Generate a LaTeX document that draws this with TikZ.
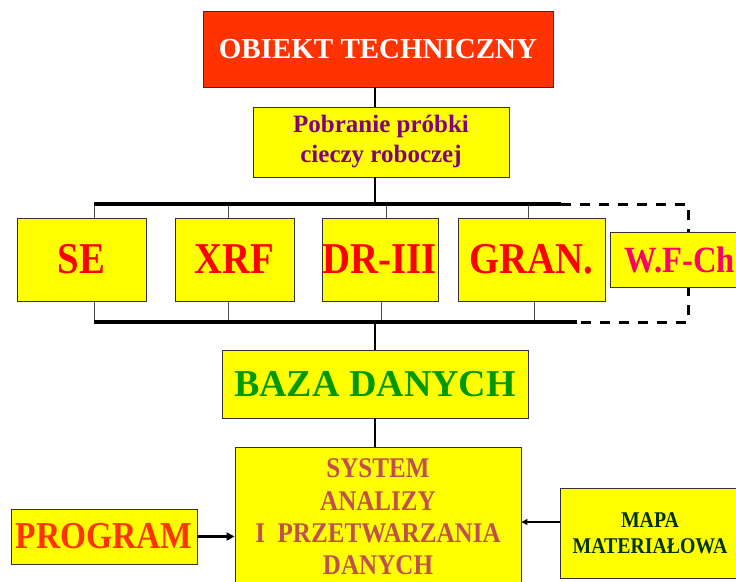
\documentclass[tikz,border=0pt]{standalone}
\usepackage{fontspec}
\setmainfont{Liberation Serif}
\newfontfamily\condfont{Liberation Serif}[FakeStretch=0.88]
\usepackage{xcolor}
\usepackage{tikz}
\usetikzlibrary{arrows.meta}

\definecolor{obiektred}{HTML}{FF3300}
\definecolor{boxyellow}{HTML}{FFFF00}
\definecolor{probkapurple}{HTML}{800080}
\definecolor{bazagreen}{HTML}{009900}
\definecolor{systemrose}{HTML}{C0504D}
\definecolor{wfpink}{HTML}{FF0066}
\definecolor{mapagreen}{HTML}{003300}

\begin{document}
\begin{tikzpicture}[x=1pt, y=-1pt,
    box/.style    = {draw=black!80, line width=0.9pt, fill=boxyellow, inner sep=0pt, align=center},
    method/.style = {box, minimum width=#1, minimum height=83, text=red,
                     font=\condfont\bfseries\fontsize{44}{50}\selectfont},
    spine/.style  = {line width=2.5pt},
    bus/.style    = {line width=3.3pt},
    tie/.style    = {line width=0.8pt, draw=black!70},
    spare/.style  = {line width=3pt, dash pattern=on 10pt off 9pt},
    feed/.style   = {-{Triangle[length=8pt,width=8pt]}}]
  \path[use as bounding box, clip] (0,0) rectangle (736,581);

  \node[box, fill=obiektred, minimum width=350, minimum height=76, text=white,
        font=\bfseries\fontsize{29}{35}\selectfont] (obiekt) at (378,49) {OBIEKT TECHNICZNY};
  \node[box, minimum width=256, minimum height=70, text=probkapurple,
        font=\bfseries\fontsize{25}{30}\selectfont] (probka) at (381,142) {Pobranie próbki\\cieczy roboczej};

  \coordinate (busT) at (375,204);
  \coordinate (busB) at (375,322);
  \coordinate (busTstart) at (94,204);
  \coordinate (busBstart) at (94,322);
  \coordinate (busTend) at (561,204);
  \coordinate (busBend) at (577,322);
  \coordinate (spareT) at (688,204);
  \coordinate (spareB) at (688,322);

  \draw[spare] (busTend) -- (spareT) -- (spareB) -- (busBend);

  \node[method=129] (se)   at (81.5,259.5)  {SE};
  \node[method=119] (xrf)  at (234.5,259.5) {XRF};
  \node[method=116] (dr)   at (380,259.5)   {DR-III};
  \node[method=147] (gran) at (531.5,259.5) {GRAN.};
  \node[box, minimum width=140, minimum height=55, text=wfpink,
        font=\condfont\bfseries\fontsize{37}{42}\selectfont] (wfch) at (680,259.5) {W.F-Ch};

  \foreach \n/\dx in {se/12.5, xrf/-6.5, dr/6, gran/-3.5}
    \draw[tie] ([xshift=\dx]\n.north) -- ([xshift=\dx]\n.north |- busT);
  \foreach \n/\dx in {se/12.5, xrf/-6.5, dr/1, gran/2.5}
    \draw[tie] ([xshift=\dx]\n.south) -- ([xshift=\dx]\n.south |- busB);

  \draw[bus] (busTstart) -- (busTend);
  \draw[bus] (busBstart) -- (busBend);

  \node[box, minimum width=306, minimum height=68, text=bazagreen,
        font=\bfseries\fontsize{38}{44}\selectfont] (baza) at (375,384) {BAZA DANYCH};
  \node[box, minimum width=286, minimum height=140, text=systemrose,
        font=\condfont\bfseries\fontsize{28.5}{32.4}\selectfont] (system) at (378,517)
        {SYSTEM\\ANALIZY\\I~~PRZETWARZANIA\\DANYCH};
  \node[box, minimum width=186, minimum height=55, text=obiektred,
        font=\condfont\bfseries\fontsize{38}{44}\selectfont] (program) at (104,536.5) {PROGRAM};
  \node[box, minimum width=180, minimum height=90, text=mapagreen,
        font=\condfont\bfseries\fontsize{22.5}{26}\selectfont] (mapa) at (650,533) {MAPA\\MATERIAŁOWA};

  \draw[spine] (obiekt.south -| busT) -- (probka.north -| busT);
  \draw[spine] (probka.south -| busT) -- (busT);
  \draw[spine] (busB) -- (baza.north -| busB);
  \draw[spine] (baza.south -| busB) -- (system.north -| busB);

  \draw[feed, line width=3pt] (program) -- (system.west |- program);
  \draw[-{Triangle[length=6pt,width=6pt]}, line width=2pt]
    ([yshift=11pt]mapa.west) -- ([yshift=11pt]mapa.west -| system.east);
\end{tikzpicture}
\end{document}
